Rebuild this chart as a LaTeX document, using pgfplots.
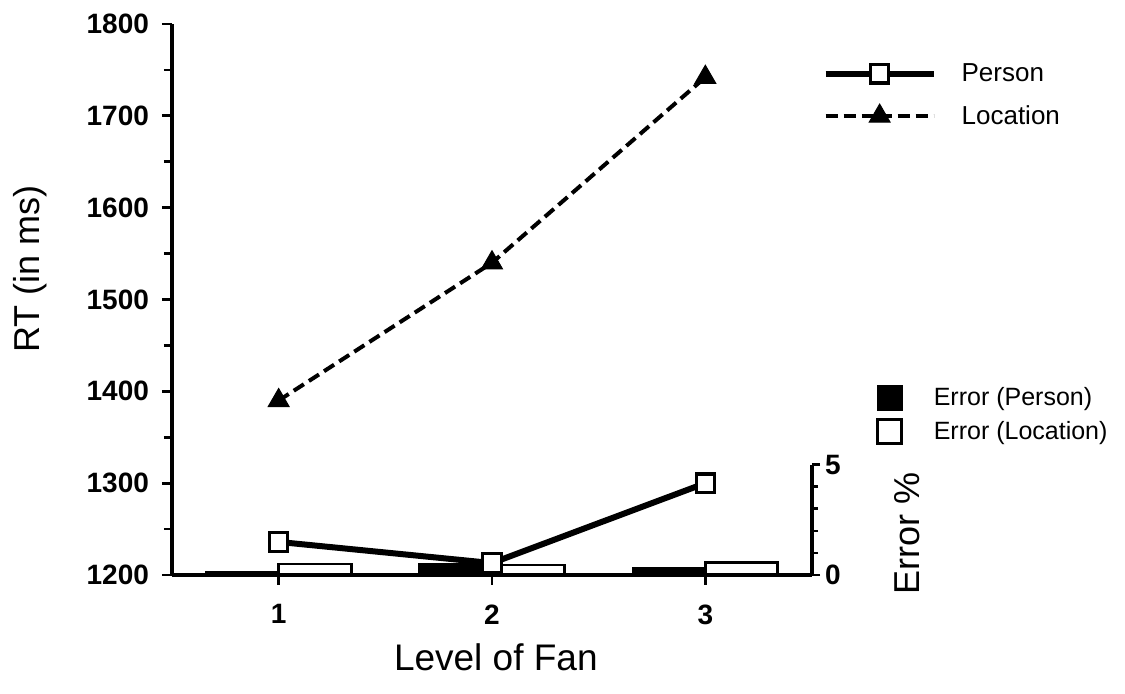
\documentclass[border=0pt]{standalone}
\usepackage{fontspec}
\setmainfont{Liberation Sans}
\usepackage{pgfplots}
\pgfplotsset{compat=1.18}
\begin{document}
\begin{tikzpicture}
\useasboundingbox (-86pt,-59.5pt) rectangle (476.5pt,287.5pt);
% ---------- Error % axis (drawn first, bars under lines) ----------
\begin{axis}[
  at={(0,0)}, anchor=south west,
  scale only axis, width=320pt, height=275.5pt,
  xmin=0.5, xmax=3.5, ymin=0, ymax=25,
  axis x line=none, axis y line*=right,
  y axis line style={draw=none},
  ytick={0,5}, minor ytick={1,2,3,4},
  tick align=outside, major tick length=4pt, minor tick length=3pt,
  every tick/.style={black, line width=1.4pt},
  /pgf/number format/assume math mode=true,
  yticklabel style={font=\fontsize{14}{16}\selectfont\bfseries, xshift=-1pt},
  ylabel={Error \%},
  ylabel style={at={(axis description cs:1.148,0.076)}, anchor=center, font=\fontsize{18}{20}\selectfont},
  clip=false,
  legend style={draw=none, fill=none, inner sep=0pt, at={(axis description cs:1.1,0.345)}, anchor=north west,
    font=\fontsize{12.5}{14}\selectfont, row sep=3.6pt, nodes={inner ysep=0.5pt}, cells={anchor=west}},
]
\addplot[ybar, bar width=0.34, bar shift=-0.17, fill=black, draw=black, line width=1pt,
  legend image code/.code={\draw[fill=black, draw=black, line width=1pt] (0pt,-6pt) rectangle (12pt,6pt); \path[draw=none, fill=none] (0pt,0pt) -- (26pt,0pt);}]
  coordinates {(1,0.15) (2,0.5) (3,0.3)};
\addlegendentry{Error (Person)}
\addplot[ybar, bar width=0.34, bar shift=0.17, fill=white, draw=black, line width=1.4pt,
  legend image code/.code={\draw[fill=white, draw=black, line width=1.4pt] (0pt,-6pt) rectangle (12pt,6pt); \path[draw=none, fill=none] (0pt,0pt) -- (26pt,0pt);}]
  coordinates {(1,0.5) (2,0.45) (3,0.55)};
\addlegendentry{Error (Location)}
\draw[line width=1.6pt] (axis cs:3.5,0) -- (axis cs:3.5,5);
\end{axis}
% ---------- RT axis ----------
\begin{axis}[
  at={(0,0)}, anchor=south west,
  scale only axis, width=320pt, height=275.5pt,
  xmin=0.5, xmax=3.5, ymin=1200, ymax=1800,
  axis lines*=left,
  axis line style={line width=1.6pt},
  xtick={1,2,3}, ytick={1200,1300,...,1800}, minor ytick={1250,1350,...,1750},
  tick align=outside, major tick length=5pt, minor tick length=4pt,
  every tick/.style={black, line width=1.4pt},
  /pgf/number format/assume math mode=true,
  /pgf/number format/1000 sep={},
  tick label style={font=\fontsize{14}{16}\selectfont\bfseries},
  xticklabel style={yshift=-6.2pt},
  yticklabel style={xshift=-3pt},
  xlabel={Level of Fan},
  xlabel style={at={(axis description cs:0.506,-0.149)}, anchor=center, font=\fontsize{18.5}{21}\selectfont},
  ylabel={RT (in ms)},
  ylabel style={at={(axis description cs:-0.222,0.555)}, anchor=center, font=\fontsize{18}{20}\selectfont},
  clip=false,
  legend style={draw=none, fill=none, inner sep=0pt, at={(axis description cs:1.016,0.931)}, anchor=north west,
    font=\fontsize{13}{15}\selectfont, row sep=9.4pt, nodes={inner ysep=0.5pt}, cells={anchor=west}},
  legend image code/.code={\draw[mark repeat=2, mark phase=2, #1] plot coordinates {(0pt,0pt) (27pt,0pt) (54pt,0pt)}; \path[draw=none, fill=none] (0pt,0pt) -- (66pt,0pt);},
]
\addplot[black, line width=3pt, mark=square*, mark size=4.6pt,
  mark options={solid, fill=white, draw=black, line width=1.6pt}]
  coordinates {(1,1236) (2,1213) (3,1300)};
\addlegendentry{Person}
\addplot[black, line width=2pt, dash pattern=on 6pt off 3pt, mark=triangle*, mark size=6pt,
  mark options={solid, fill=black, draw=black, line width=0.5pt}]
  coordinates {(1,1390) (2,1540) (3,1742)};
\addlegendentry{Location}
\end{axis}
\end{tikzpicture}
\end{document}
